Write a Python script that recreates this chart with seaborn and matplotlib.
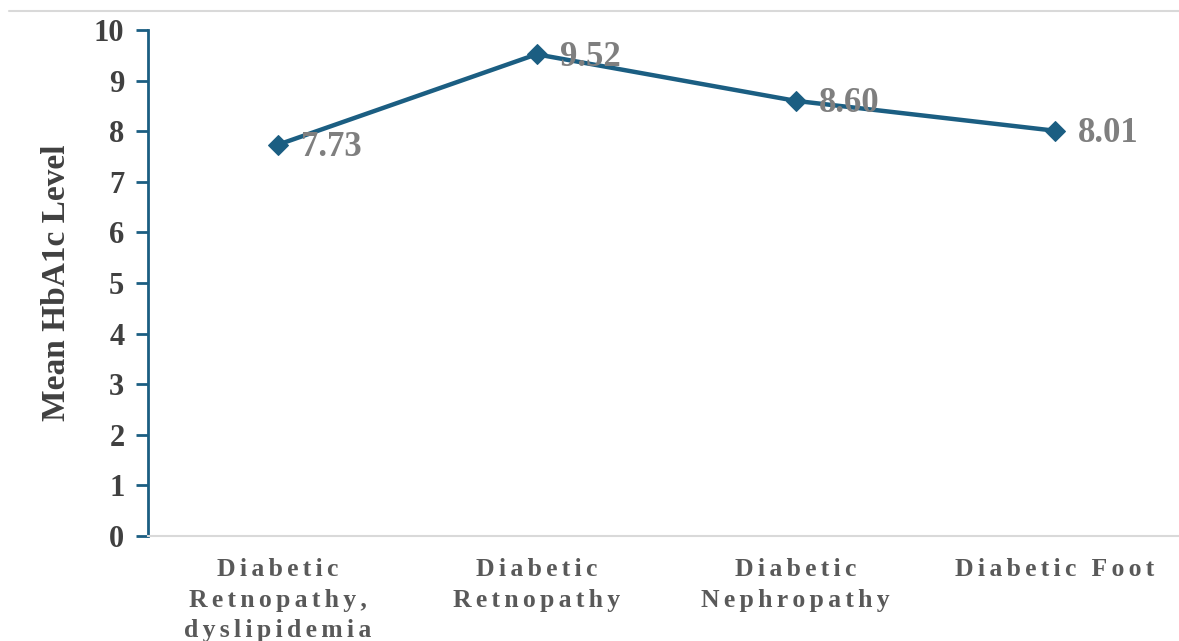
import matplotlib
matplotlib.use("Agg")
import matplotlib.pyplot as plt
from matplotlib.lines import Line2D
import seaborn as sns
import pandas as pd

categories = ["Diabetic\nRetnopathy,\ndyslipidemia", "Diabetic\nRetnopathy",
              "Diabetic\nNephropathy", "Diabetic Foot"]
hba1c = [7.73, 9.52, 8.60, 8.01]
yticks = [0, 1, 2, 3, 4, 5, 6, 7, 8, 9, 10]

LINE = "#1b5e82"
GAP = "\u2006"


def tracked(label):
    # widen the letter spacing of the category labels with narrow spaces
    return "\n".join(GAP.join(line) for line in label.split("\n"))


sns.set_theme(style="white")
plt.rcParams["font.family"] = ["Liberation Serif", "DejaVu Serif"]
plt.rcParams["font.weight"] = "bold"

df = pd.DataFrame({"pos": range(len(categories)), "val": hba1c})

fig = plt.figure(figsize=(11.79, 6.41), dpi=100)
ax = fig.add_axes([148 / 1179, 105 / 641, 1 - 148 / 1179, 506 / 641])

sns.lineplot(data=df, x="pos", y="val", ax=ax, color=LINE, linewidth=3.2,
             marker="D", markersize=10, markeredgecolor=LINE, markerfacecolor=LINE)

for i, v in enumerate(hba1c):
    ax.annotate(f"{v:.2f}", (i, v), xytext=(17, -2), textcoords="offset points",
                ha="left", va="center", fontsize=25, fontweight="bold", color="#7f7f7f")

ax.set_xlim(-0.5, 3.48)
ax.set_ylim(0, 10)
ax.set_yticks(yticks)
ax.set_yticklabels([str(t) for t in yticks], fontsize=22, fontweight="bold", color="#404040")
ax.set_xticks(range(len(categories)))
ax.set_xticklabels([tracked(c) for c in categories], fontsize=18.5, fontweight="bold",
                   color="#595959", linespacing=1.42)
ax.tick_params(axis="x", length=0, pad=16)
ax.tick_params(axis="y", length=9, width=2, color=LINE, direction="out", pad=8, left=True)

ax.set_xlabel("")
ax.set_ylabel("Mean HbA1c Level", fontsize=24, fontweight="bold", color="#404040", labelpad=16)

for side in ["top", "right"]:
    ax.spines[side].set_visible(False)
ax.spines["left"].set_color(LINE)
ax.spines["left"].set_linewidth(2)
ax.spines["bottom"].set_color("#d9d9d9")
ax.spines["bottom"].set_linewidth(1.5)

fig.add_artist(Line2D([9 / 1179, 1.0], [1 - 11 / 641, 1 - 11 / 641],
                      transform=fig.transFigure, color="#d9d9d9", linewidth=1.5))

fig.savefig("out.png", dpi=100)
